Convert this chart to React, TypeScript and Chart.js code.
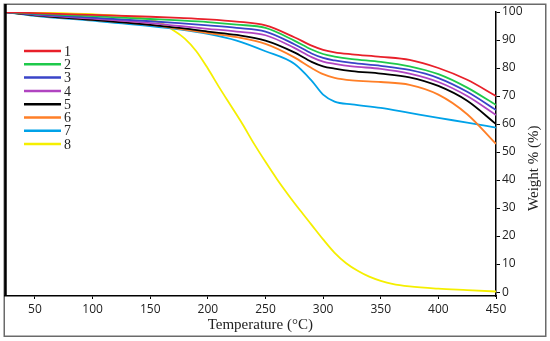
import React, { useEffect, useRef } from "react";
import { Chart, registerables } from "chart.js";

Chart.register(...registerables);

const temps = [24, 50, 100, 150, 175, 200, 225, 250, 275, 290, 300, 310, 325, 350, 375, 400, 425, 450];
const w1 = [100, 99.6, 99, 98.3, 97.9, 97.4, 96.6, 95.2, 91, 88, 86.5, 85.6, 84.9, 84, 82.9, 80, 75.8, 70];
const w2 = [100, 99.4, 98.5, 97.5, 97, 96.4, 95.5, 94.3, 89.8, 86.6, 85, 84.1, 83.2, 82.2, 80.6, 77.8, 73, 66.8];
const w3 = [100, 99.2, 98, 96.7, 96, 95.2, 94.3, 93, 88.5, 85.2, 83.6, 82.7, 81.8, 80.8, 79.3, 76.4, 71.5, 65];
const w4 = [100, 99, 97.6, 96, 95, 94, 93, 91.7, 87.2, 83.9, 82.3, 81.5, 80.6, 79.7, 78, 75, 70, 63.2];
const w5 = [100, 98.8, 97.2, 95.4, 94.3, 93, 91.8, 89.8, 85.6, 82.2, 80.6, 79.8, 78.9, 78, 76.7, 73.6, 68.3, 60];
const w6 = [100, 98.8, 97.2, 95.4, 94, 92.5, 91, 88.6, 83.8, 80, 77.8, 76.5, 75.6, 75, 74, 70.5, 63.5, 52.9];
const w7 = [100, 98.6, 96.9, 95, 93.8, 92.2, 89.8, 86, 81.5, 75.5, 70.5, 68, 67, 65.8, 64, 62.2, 60.5, 58.7];

const temps8 = [24, 50, 100, 125, 150, 160, 170, 180, 190, 200, 210, 220, 230, 240, 250, 260, 270, 280, 290, 300, 310, 320, 330, 340, 350, 360, 375, 400, 425, 450];
const w8 = [100, 99.8, 99.2, 98.6, 97.3, 96, 93.5, 90.5, 86, 79.8, 73, 66.5, 60, 53, 46.5, 40.3, 34.6, 29.2, 24, 18.8, 14, 10.3, 7.6, 5.5, 4, 2.9, 2, 1.2, 0.7, 0.2];

const seriesLabels = ["1", "2", "3", "4", "5", "6", "7", "8"];
const seriesColors = ["#e8202a", "#1ec94a", "#3a44c8", "#b044c0", "#000000", "#ff7f27", "#00a2e8", "#f5ef00"];

const xTitle = "Temperature (°C)";
const yTitle = "Weight % (%)";

const toPoints = (xs: number[], ys: number[]) => xs.map((x, i) => ({ x, y: ys[i] }));

const decorPlugin = {
  id: "decor",
  beforeDraw(chart: any) {
    const { ctx, width, height } = chart;
    ctx.save();
    ctx.fillStyle = "#ffffff";
    ctx.fillRect(0, 0, width, height);
    ctx.strokeStyle = "#6a6a6a";
    ctx.lineWidth = 1.5;
    ctx.strokeRect(4.25, 4.25, width - 8.5, height - 9);
    ctx.restore();
  },
  afterDraw(chart: any) {
    const { ctx, chartArea } = chart;
    ctx.save();
    ctx.strokeStyle = "#000";
    ctx.lineWidth = 2.5;
    ctx.beginPath();
    ctx.moveTo(chartArea.left + 0.5, 4);
    ctx.lineTo(chartArea.left + 0.5, chartArea.bottom);
    ctx.stroke();
    ctx.font = "14px 'Liberation Serif', serif";
    ctx.textBaseline = "middle";
    ctx.textAlign = "left";
    chart.data.datasets.forEach((ds: any, i: number) => {
      const y = chartArea.top + 39 + i * 13.3;
      ctx.strokeStyle = ds.borderColor;
      ctx.lineWidth = 2.5;
      ctx.beginPath();
      ctx.moveTo(chartArea.left + 19, y);
      ctx.lineTo(chartArea.left + 56, y);
      ctx.stroke();
      ctx.fillStyle = "#222";
      ctx.fillText(ds.label, chartArea.left + 59, y + 1);
    });
    ctx.font = "15px 'Liberation Serif', serif";
    ctx.fillStyle = "#222";
    ctx.textAlign = "center";
    ctx.fillText(xTitle, chartArea.left + (chartArea.right - chartArea.left) * 0.52, chartArea.bottom + 29);
    ctx.save();
    ctx.translate(chartArea.right + 38, chartArea.top + (chartArea.bottom - chartArea.top) * 0.55);
    ctx.rotate(-Math.PI / 2);
    ctx.fillText(yTitle, 0, 0);
    ctx.restore();
    ctx.restore();
  },
};

export default function App() {
  const ref = useRef<HTMLCanvasElement | null>(null);
  useEffect(() => {
    if (!ref.current) return;
    const allX = [temps, temps, temps, temps, temps, temps, temps, temps8];
    const allY = [w1, w2, w3, w4, w5, w6, w7, w8];
    const chart = new Chart(ref.current, {
      type: "line",
      data: {
        datasets: seriesLabels.map((label, i) => ({
          label,
          data: toPoints(allX[i], allY[i]),
          borderColor: seriesColors[i],
          backgroundColor: seriesColors[i],
          borderWidth: 1.8,
          pointRadius: 0,
          cubicInterpolationMode: "monotone" as const,
          fill: false,
        })),
      },
      options: {
        animation: false,
        responsive: true,
        maintainAspectRatio: false,
        layout: { padding: { left: 5, top: 12, right: 4, bottom: 0 } },
        plugins: { legend: { display: false }, tooltip: { enabled: false } },
        scales: {
          x: {
            type: "linear",
            min: 24,
            max: 450,
            afterFit: (s: any) => { s.height = 45; },
            border: { display: true, color: "#000", width: 1.5 },
            grid: { display: true, drawOnChartArea: false, drawTicks: true, tickLength: 3, color: "#000" },
            ticks: {
              stepSize: 50,
              includeBounds: false,
              padding: 3,
              color: "#222",
              font: { family: "'Open Sans', sans-serif", size: 12 },
            },
          },
          y: {
            type: "linear",
            position: "right",
            min: -1.4,
            max: 100,
            afterFit: (s: any) => { s.width = 50; },
            border: { display: true, color: "#000", width: 1.5 },
            grid: { display: true, drawOnChartArea: false, drawTicks: true, tickLength: 4, color: "#000" },
            ticks: {
              stepSize: 10,
              includeBounds: false,
              padding: 2,
              color: "#222",
              font: { family: "'Open Sans', sans-serif", size: 12 },
            },
          },
        },
      },
      plugins: [decorPlugin],
    });
    return () => chart.destroy();
  }, []);
  return (
    <div style={{ position: "fixed", left: 0, top: 0, width: 550, height: 341, background: "#fff" }}>
      <canvas ref={ref} />
    </div>
  );
}
